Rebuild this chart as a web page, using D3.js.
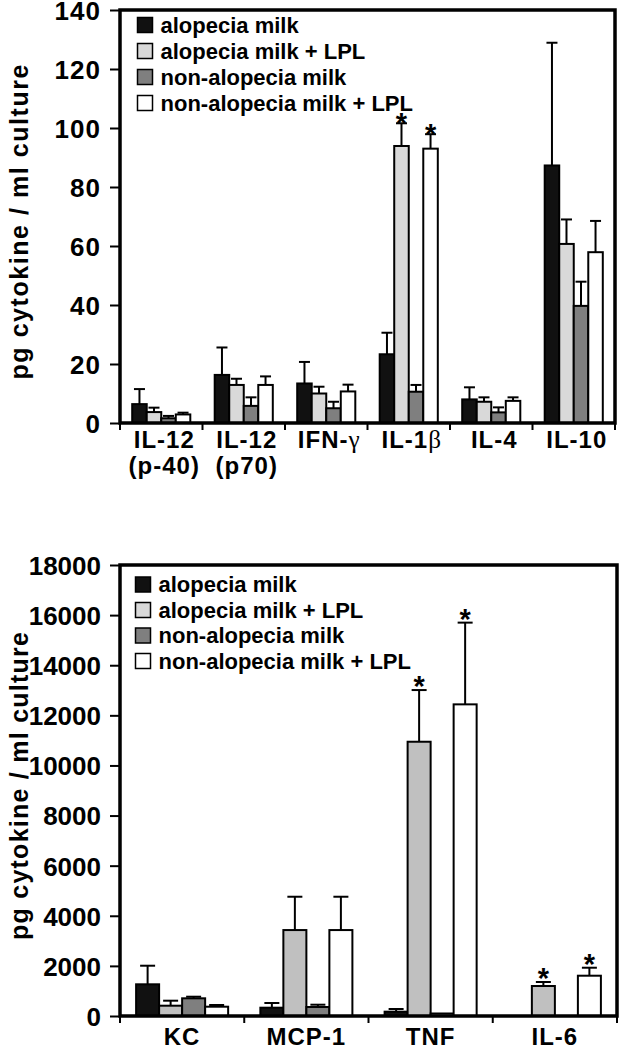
<!DOCTYPE html>
<html><head><meta charset="utf-8">
<script src="https://cdn.jsdelivr.net/npm/d3@7"></script>
<style>
body{margin:0;background:#fff}
svg{display:block}
text{font-family:"Liberation Sans",Arial,sans-serif;font-weight:bold;fill:#000}
</style>
</head><body>
<svg id="c" width="624" height="1050"></svg>
<script>
// ---------- data ----------
const seriesNames = ["alopecia milk", "alopecia milk + LPL", "non-alopecia milk", "non-alopecia milk + LPL"];

const topCategories = [["IL-12", "(p-40)"], ["IL-12", "(p70)"], ["IFN-γ"], ["IL-1β"], ["IL-4"], ["IL-10"]];
const topAlopecia        = [6.4, 16.3, 13.4, 23.3, 8.0, 87.3];
const topAlopeciaLPL     = [3.7, 12.9, 10.0, 93.9, 7.2, 60.7];
const topNonAlopecia     = [1.6, 5.8, 5.0, 10.6, 3.6, 39.7];
const topNonAlopeciaLPL  = [2.9, 12.9, 10.7, 93.0, 7.5, 57.9];
const topAlopeciaSD      = [5.1, 9.3, 7.3, 7.3, 4.1, 41.6];
const topAlopeciaLPLSD   = [1.5, 2.1, 2.3, 7.7, 1.5, 8.3];
const topNonAlopeciaSD   = [0.8, 2.9, 2.2, 2.3, 1.7, 8.2];
const topNonAlopeciaLPLSD= [0.6, 2.9, 2.3, 4.9, 1.2, 10.6];
const topSignificant     = [[], [], [], [1, 3], [], []];
const topYTicks = [0, 20, 40, 60, 80, 100, 120, 140];

const bottomCategories = [["KC"], ["MCP-1"], ["TNF"], ["IL-6"]];
const botAlopecia        = [1265, 331, 172, 0];
const botAlopeciaLPL     = [411, 3430, 10946, 1197];
const botNonAlopecia     = [706, 359, 100, 0];
const botNonAlopeciaLPL  = [371, 3430, 12438, 1608];
const botAlopeciaSD      = [742, 188, 107, 0];
const botAlopeciaLPLSD   = [200, 1330, 2063, 160];
const botNonAlopeciaSD   = [64, 92, 0, 0];
const botNonAlopeciaLPLSD= [68, 1330, 3262, 319];
const botSignificant     = [[], [], [1, 3], [1, 3]];
const bottomYTicks = [0, 2000, 4000, 6000, 8000, 10000, 12000, 14000, 16000, 18000];

const yTitle = "pg cytokine / ml culture";

// ---------- drawing ----------
const svg = d3.select("#c");

function addRich(sel, str) {
  const parts = str.split(/([α-ω])/);
  parts.forEach(p => {
    if (!p) return;
    const t = sel.append("tspan").text(p);
    if (/[α-ω]/.test(p)) t.style("font-family", "'Liberation Serif','DejaVu Serif',serif").style("font-weight", "normal").style("font-size", "1.05em");
  });
}

function panel(cfg) {
  const g = svg.append("g");
  const y = d3.scaleLinear().domain([0, cfg.yMax]).range([cfg.bottom, cfg.top]);
  const x0 = d3.scaleBand().domain(d3.range(cfg.categories.length)).range([cfg.left, cfg.right]).paddingInner(0).paddingOuter(0);
  const x1 = d3.scaleBand().domain(d3.range(4)).range([0, x0.bandwidth()]).paddingInner(0).paddingOuter(cfg.outerPad);
  const colors = cfg.colors;

  const rows = [];
  cfg.values.forEach((arr, s) => arr.forEach((v, c) => rows.push({s, c, v, sd: cfg.sds[s][c], sig: cfg.sig[c].includes(s)})));

  g.selectAll("rect.bar").data(rows).join("rect")
    .attr("x", d => x0(d.c) + x1(d.s))
    .attr("width", x1.bandwidth())
    .attr("y", d => y(d.v))
    .attr("height", d => y(0) - y(d.v))
    .attr("fill", d => colors[d.s])
    .attr("stroke", "#000").attr("stroke-width", 2);

  const eb = rows.filter(d => d.sd > 0);
  const cx = d => x0(d.c) + x1(d.s) + x1.bandwidth() / 2;
  g.selectAll("line.ev").data(eb).join("line")
    .attr("x1", cx).attr("x2", cx)
    .attr("y1", d => y(d.v)).attr("y2", d => y(d.v + d.sd))
    .attr("stroke", "#000").attr("stroke-width", 2);
  g.selectAll("line.ec").data(eb).join("line")
    .attr("x1", d => cx(d) - cfg.capW / 2).attr("x2", d => cx(d) + cfg.capW / 2)
    .attr("y1", d => y(d.v + d.sd)).attr("y2", d => y(d.v + d.sd))
    .attr("stroke", "#000").attr("stroke-width", 2);

  g.selectAll("text.ast").data(rows.filter(d => d.sig)).join("text")
    .attr("x", cx).attr("y", d => y(d.v + d.sd) - cfg.astGap + 17)
    .attr("text-anchor", "middle").style("font-size", "29px")
    .text("*");

  const yAxis = d3.axisLeft(y).tickValues(cfg.ticks).tickSize(10).tickPadding(9).tickFormat(d3.format("d"));
  const ga = g.append("g").attr("transform", `translate(${cfg.left},0)`).call(yAxis);
  ga.select(".domain").remove();
  ga.selectAll(".tick line").attr("stroke", "#000").attr("stroke-width", 2);
  ga.selectAll(".tick text").attr("fill", "#000").style("font-size", "26px").style("font-family", "'Liberation Sans',Arial,sans-serif").style("font-weight", "bold").attr("dy", "0.36em").style("letter-spacing", cfg.tickSpacing);

  const bounds = d3.range(cfg.categories.length + 1).map(i => cfg.left + i * x0.step());
  g.selectAll("line.xt").data(bounds).join("line")
    .attr("x1", d => d).attr("x2", d => d)
    .attr("y1", cfg.bottom).attr("y2", cfg.bottom + 7)
    .attr("stroke", "#000").attr("stroke-width", 2);

  g.append("path")
    .attr("d", `M${cfg.left},${cfg.bottom}V${cfg.top}H${cfg.right}V${cfg.bottom}Z`)
    .attr("fill", "none").attr("stroke", "#000").attr("stroke-width", 3.5);

  cfg.categories.forEach((lines, c) => {
    lines.forEach((ln, i) => {
      const t = g.append("text")
        .attr("x", x0(c) + x0.bandwidth() / 2 + cfg.labelShift)
        .attr("y", cfg.labelY + i * 26)
        .attr("text-anchor", "middle")
        .style("font-size", "24px").style("letter-spacing", "1px");
      addRich(t, ln);
    });
  });

  g.append("text")
    .attr("transform", `translate(${cfg.titleX},${cfg.titleY}) rotate(-90)`)
    .attr("text-anchor", "middle")
    .style("font-size", "25px")
    .attr("textLength", cfg.titleLen).attr("lengthAdjust", "spacing")
    .text(yTitle);

  const lg = g.append("g");
  seriesNames.forEach((name, s) => {
    const ty = cfg.legendTop + s * cfg.legendStep;
    lg.append("rect").attr("x", cfg.legendX).attr("y", ty).attr("width", 15).attr("height", 15)
      .attr("fill", cfg.legendColors[s]).attr("stroke", "#000").attr("stroke-width", 1.5);
    lg.append("text").attr("x", cfg.legendX + 23).attr("y", ty + 15)
      .style("font-size", "22px").text(name);
  });
}

panel({
  categories: topCategories,
  values: [topAlopecia, topAlopeciaLPL, topNonAlopecia, topNonAlopeciaLPL],
  sds: [topAlopeciaSD, topAlopeciaLPLSD, topNonAlopeciaSD, topNonAlopeciaLPLSD],
  sig: topSignificant, ticks: topYTicks, yMax: 140,
  left: 120, right: 615, top: 10, bottom: 423,
  outerPad: 0.84, capW: 11, astGap: 7,
  colors: ["#111111", "#d9d9d9", "#7f7f7f", "#ffffff"],
  legendColors: ["#111111", "#d9d9d9", "#7f7f7f", "#ffffff"],
  legendX: 137.5, legendTop: 17.5, legendStep: 26,
  labelY: 448, labelShift: 3, tickSpacing: "1px",
  titleX: 28, titleY: 222, titleLen: 315
});

panel({
  categories: bottomCategories,
  values: [botAlopecia, botAlopeciaLPL, botNonAlopecia, botNonAlopeciaLPL],
  sds: [botAlopeciaSD, botAlopeciaLPLSD, botNonAlopeciaSD, botNonAlopeciaLPLSD],
  sig: botSignificant, ticks: bottomYTicks, yMax: 18000,
  left: 120, right: 617, top: 565, bottom: 1016,
  outerPad: 0.7, capW: 15, astGap: 11,
  colors: ["#111111", "#c0c0c0", "#7f7f7f", "#ffffff"],
  legendColors: ["#111111", "#d9d9d9", "#7f7f7f", "#ffffff"],
  legendX: 135.5, legendTop: 577, legendStep: 25.5,
  labelY: 1045, labelShift: 0, tickSpacing: "0px",
  titleX: 28, titleY: 786, titleLen: 308
});
</script>
</body></html>
